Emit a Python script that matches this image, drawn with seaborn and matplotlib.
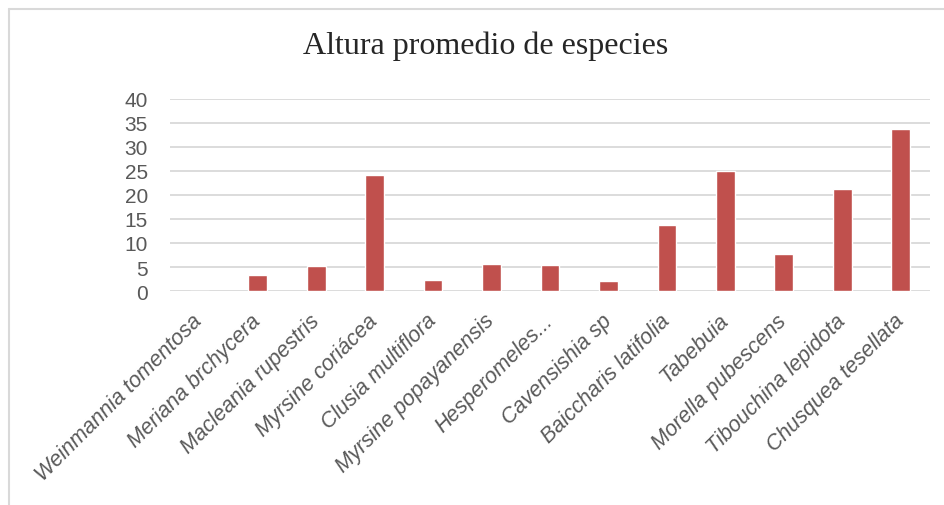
import matplotlib
matplotlib.use("Agg")
import matplotlib.pyplot as plt
import seaborn as sns
import pandas as pd
from matplotlib.lines import Line2D

# data
especies = [
    "Weinmannia tomentosa", "Meriana brchycera", "Macleania rupestris",
    "Myrsine coriácea", "Clusia multiflora", "Myrsine popayanensis",
    "Hesperomeles...", "Cavensishia sp", "Baiccharis latifolia",
    "Tabebuia", "Morella pubescens", "Tibouchina lepidota",
    "Chusquea tesellata",
]
altura = [0, 3.4, 5.3, 24.2, 2.2, 5.6, 5.5, 2.0, 13.7, 25.1, 7.8, 21.2, 33.8]

df = pd.DataFrame({"especie": especies, "altura": altura})

sns.set_style("white")
plt.rcParams["font.family"] = ["Liberation Sans", "DejaVu Sans"]

fig = plt.figure(figsize=(9.45, 5.06), dpi=100)
ax = fig.add_axes([170 / 945, 1 - 292 / 506, 760 / 945, 192 / 506])

sns.barplot(data=df, x="especie", y="altura", color="#c0504d",
            saturation=1, width=0.32, ax=ax, zorder=3)

ax.set_ylim(0, 40)
ax.set_yticks(range(0, 45, 5))
ax.set_xlim(-0.5, len(especies) - 0.5)
ax.yaxis.grid(True, color="#d9d9d9", linewidth=1.3, zorder=0)
ax.xaxis.grid(False)
for s in ax.spines.values():
    s.set_visible(False)
ax.set_xlabel("")
ax.set_ylabel("")
ax.tick_params(axis="y", length=0, labelsize=15, labelcolor="#595959", pad=16)
ax.tick_params(axis="x", length=0, labelcolor="#595959", pad=19)
ax.set_xticks(range(len(especies)))
ax.set_xticklabels(especies, rotation=45, ha="right", va="center",
                   rotation_mode="anchor", fontsize=15.5, fontstyle="italic")

fig.text(0.514, 1 - 46 / 506, "Altura promedio de especies", ha="center",
         va="center", fontsize=23, family=["Liberation Serif", "DejaVu Serif"])

# chart frame (only top and left edges visible)
fig.add_artist(Line2D([9 / 945, 9 / 945], [0, 1 - 10 / 506], color="#d9d9d9", lw=1.5))
fig.add_artist(Line2D([9 / 945, 1], [1 - 10 / 506, 1 - 10 / 506], color="#d9d9d9", lw=1.5))

fig.savefig("out.png", dpi=100)
